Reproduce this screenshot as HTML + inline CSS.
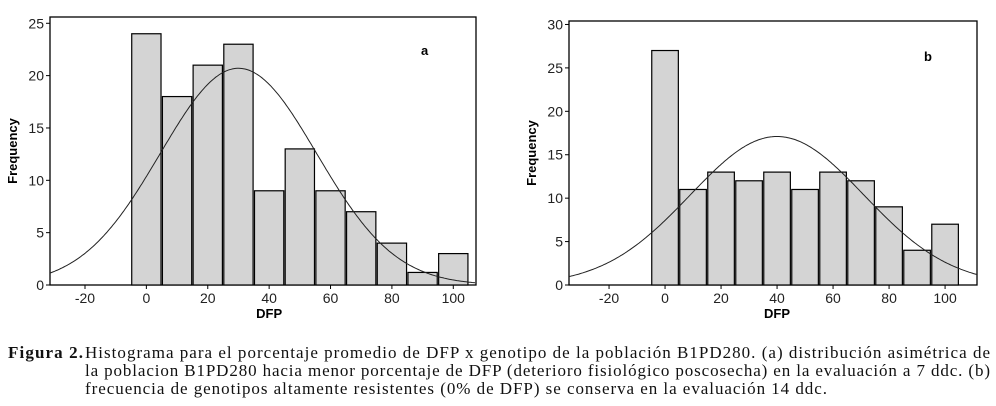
<!DOCTYPE html>
<html><head><meta charset="utf-8"><style>
body{margin:0;background:#fff;width:996px;height:406px;overflow:hidden}
svg{display:block;font-family:"Liberation Sans",sans-serif}
.cap{font-family:"Liberation Serif",serif;font-size:17px;fill:#111}
</style></head><body>
<svg id="s" width="996" height="406"></svg>
<script>
const binsA=[0,10,20,30,40,50,60,70,80,90,100];
const freqA=[24,18,21,23,9,13,9,7,4,1.2,3];
const yTicksA=[0,5,10,15,20,25];
const binsB=[0,10,20,30,40,50,60,70,80,90,100];
const freqB=[27,11,13,12,13,11,13,12,9,4,7];
const yTicksB=[0,5,10,15,20,25,30];
const xTicks=[-20,0,20,40,60,80,100];
const normA=[30,25.5,20.7];
const normB=[40,31,17.1];
const NS='http://www.w3.org/2000/svg';
const svg=document.getElementById('s');
function el(t,a,p){const e=document.createElementNS(NS,t);for(const k in a)e.setAttribute(k,a[k]);(p||svg).appendChild(e);return e;}
function chart(id,box,xr,yr,bins,freq,yt,norm,letter,lx,ly){
  const g=el('g',{});
  
  
  const X=v=>box.x0+(v-xr[0])/(xr[1]-xr[0])*(box.x1-box.x0);
  const Y=v=>box.y1-(v-yr[0])/(yr[1]-yr[0])*(box.y1-box.y0);
  const r=el('rect',{x:box.x0,y:box.y0,width:box.x1-box.x0,height:box.y1-box.y0,fill:'none',stroke:'#000','stroke-width':1.3},g);
  
  bins.forEach((b,i)=>{const x0=X(b-5),x1=X(b+5);
    const br=el('rect',{x:x0+0.7,y:Y(freq[i]),width:x1-x0-1.4,height:Y(0)-Y(freq[i]),fill:'#d4d4d4',stroke:'#000','stroke-width':1.2},g);
    });
  let d='';for(let v=xr[0];v<=xr[1];v+=0.5){const y=norm[2]*Math.exp(-Math.pow(v-norm[0],2)/(2*norm[1]*norm[1]));d+=(d?'L':'M')+X(v).toFixed(1)+','+Y(y).toFixed(1);}
  const c=el('path',{d:d,fill:'none',stroke:'#222','stroke-width':1},g);
  
  yt.forEach(t=>{el('line',{x1:box.x0-4,x2:box.x0,y1:Y(t),y2:Y(t),stroke:'#000'},g);
    const tx=el('text',{x:box.x0-6,y:Y(t)+5,'text-anchor':'end','font-size':14,fill:'#222'},g);tx.textContent=t;
    });
  xTicks.forEach(t=>{el('line',{x1:X(t),x2:X(t),y1:box.y1,y2:box.y1+4,stroke:'#000'},g);
    const tx=el('text',{x:X(t),y:box.y1+18,'text-anchor':'middle','font-size':14,fill:'#222'},g);tx.textContent=t;
    });
  const xt=el('text',{x:X(40),y:box.y1+33,'text-anchor':'middle','font-size':13,'font-weight':'bold'},g);xt.textContent='DFP';
  
  const cy=(box.y0+box.y1)/2, cx=box.x0-33;
  const yt2=el('text',{x:cx,y:cy,transform:'rotate(-90 '+cx+' '+cy+')','text-anchor':'middle','font-size':13,'font-weight':'bold'},g);yt2.textContent='Frequency';
  
  const lt=el('text',{x:lx,y:ly,'font-size':13,'font-weight':'bold'},g);lt.textContent=letter;
  
}
chart('a',{x0:50,x1:476,y0:17,y1:285},[-31.4,107.4],[0,25.6],binsA,freqA,yTicksA,normA,'a',421,55);
chart('b',{x0:569,x1:977,y0:21,y1:285},[-34.3,111.4],[0,30.4],binsB,freqB,yTicksB,normB,'b',924,61);
const lines=[
 [8,358,75,'Figura 2.'],
 [85,358,905,'Histograma para el porcentaje promedio de DFP x genotipo de la población B1PD280. (a) distribución asimétrica de'],
 [85,376,905,'la poblacion B1PD280 hacia menor porcentaje de DFP (deterioro fisiológico poscosecha) en la evaluación a 7 ddc. (b)'],
 [85,394,742,'frecuencia de genotipos altamente resistentes (0% de DFP) se conserva en la evaluación 14 ddc.']];
lines.forEach((l,i)=>{const t=el('text',{x:l[0],y:l[1],class:'cap'});
  if(l[2])t.setAttribute('textLength',l[2]);
  if(i==0)t.setAttribute('font-weight','bold');
  t.textContent=l[3];
  
  });
</script>
</body></html>
